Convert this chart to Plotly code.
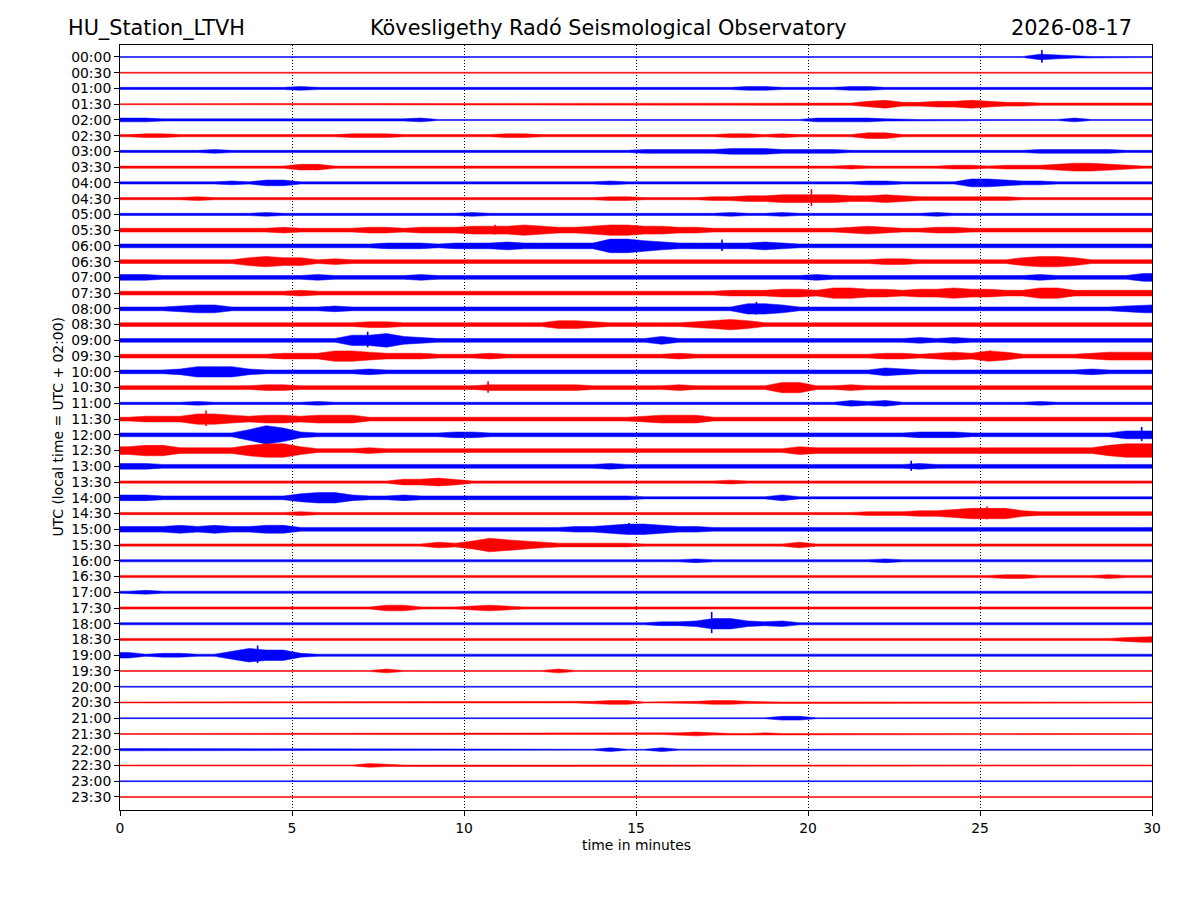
import plotly.graph_objects as go

# helicorder rows (30 min per line), top to bottom
row_labels = [
    "00:00", "00:30", "01:00", "01:30", "02:00", "02:30", "03:00", "03:30",
    "04:00", "04:30", "05:00", "05:30", "06:00", "06:30", "07:00", "07:30",
    "08:00", "08:30", "09:00", "09:30", "10:00", "10:30", "11:00", "11:30",
    "12:00", "12:30", "13:00", "13:30", "14:00", "14:30", "15:00", "15:30",
    "16:00", "16:30", "17:00", "17:30", "18:00", "18:30", "19:00", "19:30",
    "20:00", "20:30", "21:00", "21:30", "22:00", "22:30", "23:00", "23:30",
]
row_colors = ["#0000ff", "#ff0000"] * 24

# envelope level (0-9), one digit per half minute (60 per row)
envelope_levels = [
    "1111111111 1111111111 1111111111 1111111111 1111111111 1114321111",
    "1111111111 1111111112 1111111111 1111111111 2111111111 1211111111",
    "2222222222 3222222222 2222222222 2222223322 2233222222 2222222222",
    "1111111111 1111111111 1111111122 2222222222 2224533445 4332222222",
    "3322222222 2222222311 1111111111 1111112111 3333211111 1111131111",
    "2332222222 2223332222 2233222222 2222233232 2224422222 2222222222",
    "2222232222 2222222222 2222222222 3333344433 3322222222 2223333322",
    "2222222222 4422222222 2222222222 2222222222 2232222233 2333455432",
    "2222223244 2222222222 2222222232 2222222222 2223322225 5433222222",
    "2222322222 2222222222 2222222233 2222334455 5544543333 3322222222",
    "2222222232 2222222222 3222222222 2222232232 2222222322 2222222222",
    "3333333334 3333443444 5556544566 5544333333 3345433443 3333333333",
    "3333333333 3333344434 4454444477 6544444543 3333333333 3333333333",
    "3333333565 5343333333 3333333333 3333333333 3333443333 3356653333",
    "4433333333 3433333433 3333333333 3333333333 4333333333 3334333335",
    "3333333333 4333333333 3333333333 3333344455 4665545565 5446644444",
    "3334553333 3343333333 3333333333 3333336653 3333333333 3333333345",
    "3333333333 3333443333 3333355433 3334565333 3333333333 3333333333",
    "3333333333 3336675433 3333333333 3533333333 3333334343 3333333333",
    "3333333334 4466544433 3433333333 3343333333 3333443454 6533334555",
    "3334666433 3333433333 3333333333 3333333333 3333543333 3333334333",
    "3333333344 3333333333 3444444333 3343333366 3343333333 3333333333",
    "2222322222 2322222222 2222222222 2222222222 2243422222 2223222222",
    "3444665455 4555333333 3333333333 4555333333 3333333333 3333333333",
    "3333333687 4333333334 4333333333 3333333333 3333334443 3333333355",
    "5664444677 5333433333 3333333333 3333333335 4444444444 4444444677",
    "4433333333 3333333333 3333333343 3333333333 3333334333 3333333333",
    "2222222222 2222224454 2222222222 2222232222 2222222222 2222222222",
    "4433333333 5664334333 3333333333 2222222242 2222222222 2222222222",
    "2222222222 3222222222 2222222222 2222222222 2223334456 6643333333",
    "4445454455 3333333333 3333334456 6544333333 3333333333 3333333333",
    "2222222222 2222222243 5765433333 2222222224 2222222222 2222222222",
    "2222222222 2222222222 2222222222 2223222222 2222322222 2222222222",
    "2222222222 2222222222 2222222222 2222222222 2222222222 2332222322",
    "2322222222 2222222222 2222222222 2222222222 2222222222 2222222222",
    "2222222222 2222244222 3432222222 2222222222 2222222222 2222222222",
    "2222222222 2222222222 2222222222 2334664342 2222222222 2222222222",
    "2222222222 2222222222 2222222222 2222222222 2222222222 2222222234",
    "4233225766 3222222222 2222222222 2222222222 2222222222 2222222222",
    "1111111111 1111131111 1111131111 1111111111 1111111111 1111111111",
    "1111111111 1111111111 1111111111 1122111111 1111111111 1111111111",
    "1111111111 1111111111 1111111233 1112332111 1111111111 1111111111",
    "1111111111 1111111111 1111111111 1111111133 1121111111 1111122211",
    "1111111111 1111111111 1111111121 1123211211 2111111111 1111111111",
    "2211111111 1111111111 1111111131 1311111111 1111111111 1111112111",
    "1111111111 1111321111 1111111111 1111111111 1111111111 1111111111",
    "1111111111 1111111111 1111111111 1111111111 1111111211 2221111111",
    "1111111111 1111111111 1111111111 1111111111 1111111111 1111111111",
]
# half-height of each level, in row spacings
level_amplitude = [0.02, 0.03, 0.07, 0.12, 0.18, 0.25, 0.33, 0.43, 0.58, 0.72]

# single sharp peaks (row index, minute, half-height in row spacings)
spike_rows = [0, 9, 11, 12, 16, 18, 19, 21, 23, 24, 26, 29, 30, 36, 38]
spike_minutes = [26.8, 20.1, 10.9, 17.5, 18.5, 7.2, 25.3, 10.7, 2.5, 29.7, 23.0, 25.2, 14.8, 17.2, 4.0]
spike_heights = [0.45, 0.60, 0.35, 0.40, 0.45, 0.55, 0.35, 0.40, 0.55, 0.50, 0.35, 0.45, 0.40, 0.75, 0.62]

minutes_per_row = 30
bins_per_row = 60
x_ticks = [0, 5, 10, 15, 20, 25, 30]

station = "HU_Station_LTVH"
observatory = "Kövesligethy Radó Seismological Observatory"
day = "2026-08-17"

bin_width = minutes_per_row / bins_per_row
bin_centers = [bin_width * (k + 0.5) for k in range(bins_per_row)]
xs = [0.0] + bin_centers + [float(minutes_per_row)]

fig = go.Figure()
for i, (label, color, levels) in enumerate(zip(row_labels, row_colors, envelope_levels)):
    digits = levels.replace(" ", "")
    assert len(digits) == bins_per_row, (label, len(digits))
    amps = [level_amplitude[int(c)] for c in digits]
    amps = [amps[0]] + amps + [amps[-1]]
    upper = [-i + a for a in amps]
    lower = [-i - a for a in amps]
    fig.add_trace(go.Scatter(
        x=xs + xs[::-1],
        y=upper + lower[::-1],
        mode='lines',
        fill='toself',
        fillcolor=color,
        line=dict(color=color, width=0.5),
        hoverinfo='skip',
        showlegend=False))

# spikes as short vertical strokes, one trace per colour
for color in ["#0000ff", "#ff0000"]:
    sx, sy = [], []
    for r, m, h in zip(spike_rows, spike_minutes, spike_heights):
        if row_colors[r] != color:
            continue
        sx += [m, m, None]
        sy += [-r + h, -r - h * 0.8, None]
    fig.add_trace(go.Scatter(x=sx, y=sy, mode='lines', line=dict(color=color, width=1.6),
                             hoverinfo='skip', showlegend=False))

font = "DejaVu Sans, Liberation Sans, sans-serif"
# the page body adds 8px, so margins are shifted to keep the plot box in place
fig.update_layout(
    width=1200, height=900, autosize=False,
    margin=dict(l=112, r=56, t=37, b=98),
    paper_bgcolor='white', plot_bgcolor='white',
    font=dict(family=font, size=14, color='black'),
    xaxis=dict(range=[0, minutes_per_row], tickvals=x_ticks, ticks='outside', ticklen=5,
               tickcolor='black', showline=True, linecolor='black', linewidth=1, mirror=True,
               showgrid=True, gridcolor='black', gridwidth=0.6, griddash='1px,2px',
               zeroline=False, tickfont=dict(size=13.9)),
    yaxis=dict(range=[-len(row_labels) + 0.17, 0.76],
               tickvals=[-i for i in range(len(row_labels))], ticktext=row_labels,
               ticks='outside', ticklen=5, tickcolor='black', showline=True,
               linecolor='black', linewidth=1, mirror=True, showgrid=False,
               zeroline=False, tickfont=dict(size=13.9)),
)

fig.add_annotation(text=station, xref='paper', yref='paper', x=-0.0523, y=1.0222,
                   xanchor='left', yanchor='middle', showarrow=False, font=dict(size=20.8))
fig.add_annotation(text=observatory, xref='paper', yref='paper', x=0.473, y=1.0222,
                   xanchor='center', yanchor='middle', showarrow=False, font=dict(size=20.8))
fig.add_annotation(text=day, xref='paper', yref='paper', x=0.9826, y=1.0222,
                   xanchor='right', yanchor='middle', showarrow=False, font=dict(size=20.8))
fig.add_annotation(text="time in minutes", xref='paper', yref='paper', x=0.5, y=-0.0458,
                   xanchor='center', yanchor='middle', showarrow=False, font=dict(size=13.9))
fig.add_annotation(text="UTC (local time = UTC + 02:00)", xref='paper', yref='paper',
                   x=-0.061, y=0.5, textangle=-90, xanchor='center', yanchor='middle',
                   showarrow=False, font=dict(size=13.9))

fig.write_html("out.html")
